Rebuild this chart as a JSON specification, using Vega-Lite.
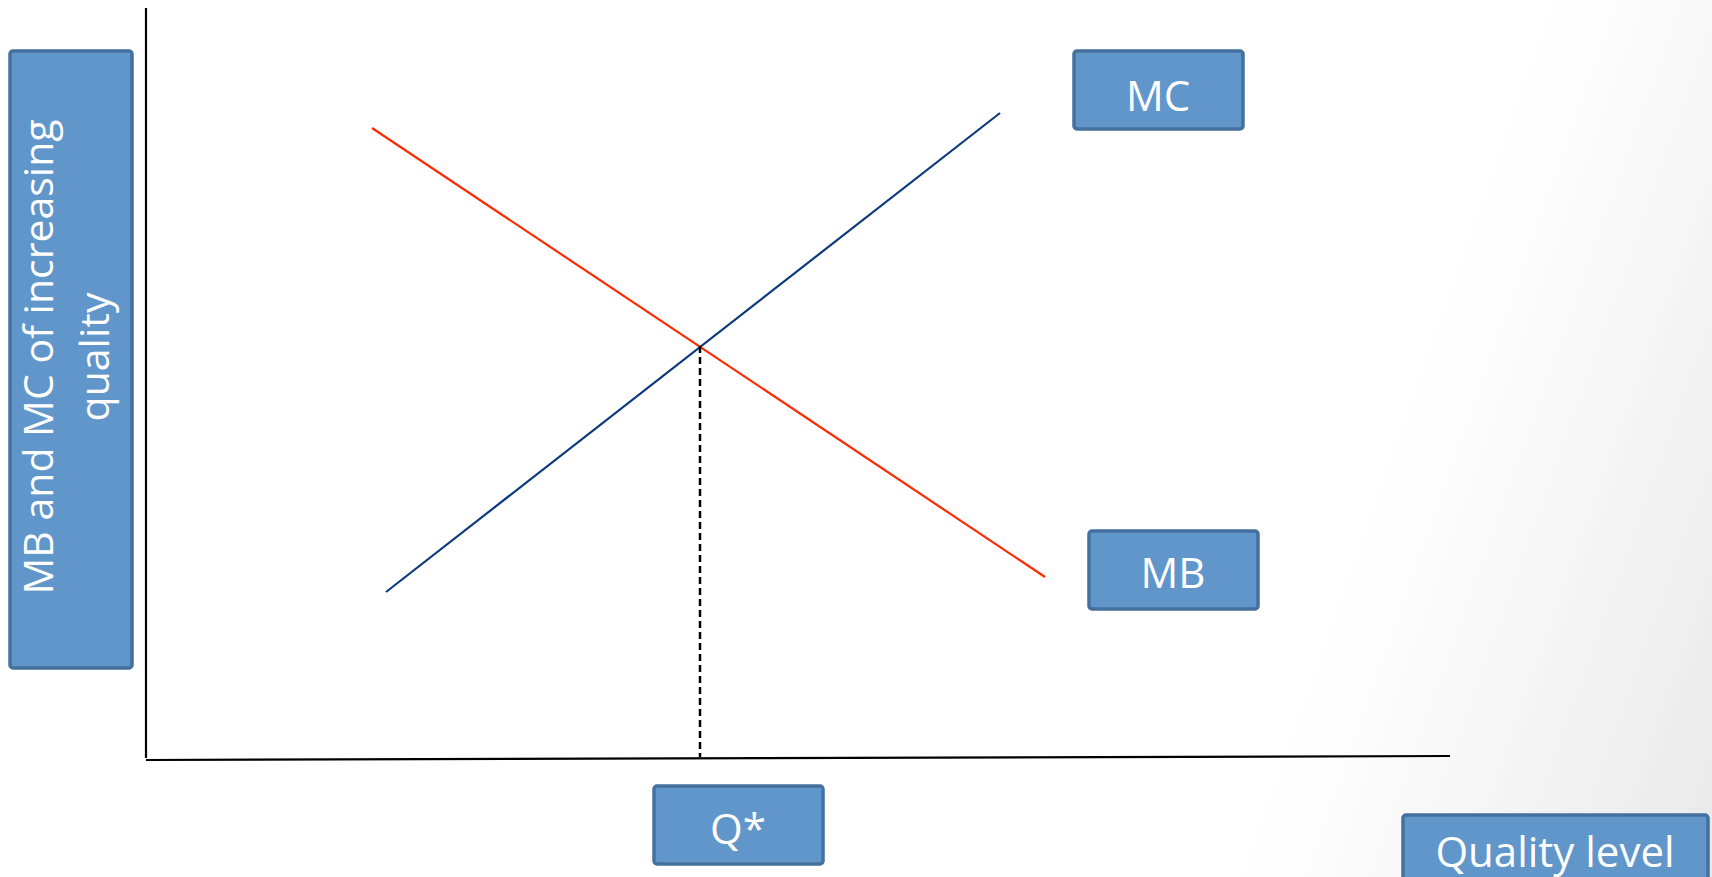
{
  "$schema": "https://vega.github.io/schema/vega-lite/v6.json",
  "width": 1712,
  "height": 877,
  "autosize": {"type": "fit", "contains": "padding"},
  "padding": 0,
  "background": "#ffffff",
  "config": {"view": {"stroke": null}},
  "datasets": {
    "bg": [{"x": 0, "x2": 1712, "y": 0, "y2": 877}],
    "lines": [
      {"series": "MC", "x": 386, "y": 285},
      {"series": "MC", "x": 1000, "y": 764},
      {"series": "MB", "x": 372, "y": 749},
      {"series": "MB", "x": 1045, "y": 300},
      {"series": "yaxis", "x": 146, "y": 869},
      {"series": "yaxis", "x": 146, "y": 119},
      {"series": "xaxis", "x": 146, "y": 117},
      {"series": "xaxis", "x": 1450, "y": 121}
    ],
    "dash": [
      {"x": 700, "y": 531},
      {"x": 700, "y": 120}
    ],
    "boxes": [
      {"label": "ylab", "x": 10, "x2": 132, "y": 209, "y2": 826},
      {"label": "MC", "x": 1074, "x2": 1243, "y": 748, "y2": 826},
      {"label": "MB", "x": 1089, "x2": 1258, "y": 268, "y2": 346},
      {"label": "Q*", "x": 654, "x2": 823, "y": 13, "y2": 91},
      {"label": "Quality level", "x": 1403, "x2": 1708, "y": -20, "y2": 62}
    ],
    "texts": [
      {"label": "MC", "x": 1158, "y": 779},
      {"label": "MB", "x": 1173, "y": 302},
      {"label": "Q*", "x": 738, "y": 46},
      {"label": "Quality level", "x": 1555, "y": 23}
    ],
    "ytext": [
      {"label": "MB and MC of increasing|quality", "x": 41, "y": 520}
    ]
  },
  "encoding": {
    "x": {"type": "quantitative", "scale": {"domain": [0, 1712], "nice": false, "zero": false}, "axis": null},
    "y": {"type": "quantitative", "scale": {"domain": [0, 877], "nice": false, "zero": false}, "axis": null}
  },
  "layer": [
    {
      "data": {"name": "bg"},
      "mark": {
        "type": "rect",
        "clip": true,
        "color": {
          "gradient": "linear",
          "x1": 0.87, "y1": 0.159, "x2": 1.144, "y2": 0.209,
          "stops": [
            {"offset": 0, "color": "#ffffff"},
            {"offset": 0.15, "color": "#fdfdfd"},
            {"offset": 1, "color": "#e9e9e9"}
          ]
        }
      },
      "encoding": {
        "x": {"field": "x", "type": "quantitative"},
        "x2": {"field": "x2"},
        "y": {"field": "y", "type": "quantitative"},
        "y2": {"field": "y2"}
      }
    },
    {
      "data": {"name": "lines"},
      "mark": {"type": "line", "clip": true},
      "encoding": {
        "x": {"field": "x", "type": "quantitative"},
        "y": {"field": "y", "type": "quantitative"},
        "detail": {"field": "series", "type": "nominal"},
        "color": {
          "field": "series", "type": "nominal", "legend": null,
          "scale": {"domain": ["MC", "MB", "yaxis", "xaxis"], "range": ["#0d3a7c", "#ff2a00", "#000000", "#000000"]}
        },
        "strokeWidth": {
          "field": "series", "type": "nominal", "legend": null,
          "scale": {"domain": ["MC", "MB", "yaxis", "xaxis"], "range": [2.2, 2.2, 2.6, 2.6]}
        }
      }
    },
    {
      "data": {"name": "dash"},
      "mark": {"type": "line", "color": "#000000", "strokeWidth": 2.5, "strokeDash": [7, 4]},
      "encoding": {
        "x": {"field": "x", "type": "quantitative"},
        "y": {"field": "y", "type": "quantitative"}
      }
    },
    {
      "data": {"name": "boxes"},
      "mark": {"type": "rect", "clip": true, "fill": "#6096ca", "stroke": "#44709d", "strokeWidth": 3.5, "cornerRadius": 3},
      "encoding": {
        "x": {"field": "x", "type": "quantitative"},
        "x2": {"field": "x2"},
        "y": {"field": "y", "type": "quantitative"},
        "y2": {"field": "y2"}
      }
    },
    {
      "data": {"name": "texts"},
      "mark": {"type": "text", "font": "Open Sans", "fontSize": 42, "color": "#ffffff", "align": "center", "baseline": "middle"},
      "encoding": {
        "x": {"field": "x", "type": "quantitative"},
        "y": {"field": "y", "type": "quantitative"},
        "text": {"field": "label", "type": "nominal"}
      }
    },
    {
      "data": {"name": "ytext"},
      "mark": {"type": "text", "font": "Open Sans", "fontSize": 41, "color": "#ffffff", "align": "center", "baseline": "middle", "angle": 270, "lineBreak": "|", "lineHeight": 56},
      "encoding": {
        "x": {"field": "x", "type": "quantitative"},
        "y": {"field": "y", "type": "quantitative"},
        "text": {"field": "label", "type": "nominal"}
      }
    }
  ]
}
